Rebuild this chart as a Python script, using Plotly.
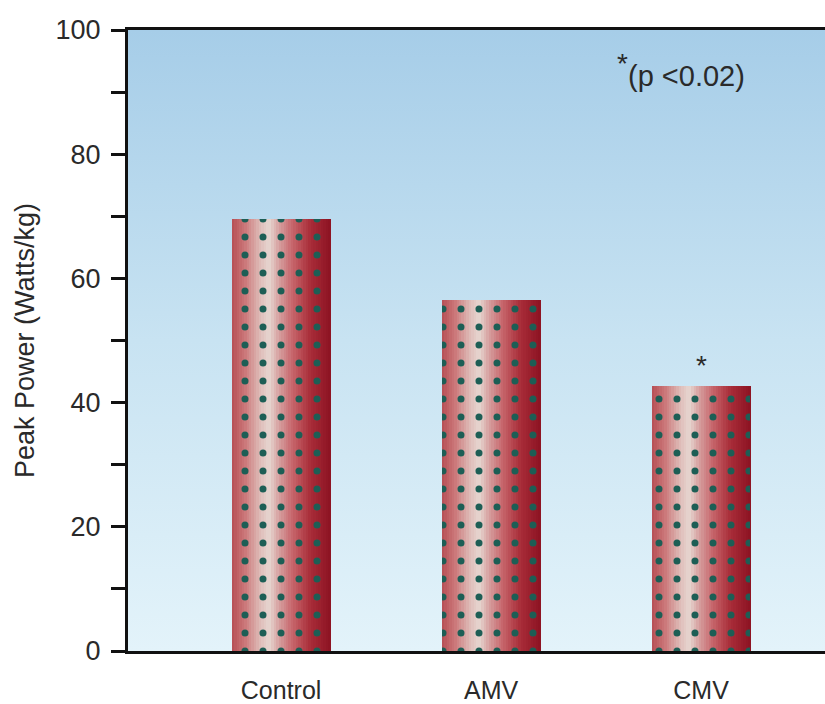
import plotly.graph_objects as go

# ---- data ----
categories = ["Control", "AMV", "CMV"]
peak_power = [69.5, 56.5, 42.7]
significant = [False, False, True]
y_tick_values = [0, 10, 20, 30, 40, 50, 60, 70, 80, 90, 100]
y_tick_labels = ["0", "", "20", "", "40", "", "60", "", "80", "", "100"]

FONT = "Liberation Sans, Arial, Helvetica, sans-serif"
TEXT_COLOR = "#2a2a2a"
BAR_WIDTH = 0.47
N_STRIPS = 40

# horizontal gradient stops across each bar (fraction, rgb)
stops = [
    (0.00, (182, 78, 84)),
    (0.14, (204, 122, 124)),
    (0.30, (224, 192, 188)),
    (0.38, (230, 214, 208)),
    (0.48, (214, 158, 158)),
    (0.62, (198, 100, 106)),
    (0.80, (168, 44, 56)),
    (1.00, (140, 18, 34)),
]


def grad_color(t):
    for (t0, c0), (t1, c1) in zip(stops[:-1], stops[1:]):
        if t0 <= t <= t1:
            f = (t - t0) / (t1 - t0) if t1 > t0 else 0
            c = [round(a + (b - a) * f) for a, b in zip(c0, c1)]
            return f"rgb({c[0]},{c[1]},{c[2]})"
    c = stops[-1][1]
    return f"rgb({c[0]},{c[1]},{c[2]})"


fig = go.Figure()

strip_w = BAR_WIDTH / N_STRIPS
for k in range(N_STRIPS):
    t = (k + 0.5) / N_STRIPS
    fig.add_trace(go.Bar(
        x=categories, y=peak_power,
        width=strip_w * 1.08, offset=-BAR_WIDTH / 2 + k * strip_w,
        marker=dict(color=grad_color(t), line=dict(width=0)),
        showlegend=False, hoverinfo="skip",
    ))

# dotted overlay
fig.add_trace(go.Bar(
    x=categories, y=peak_power,
    width=BAR_WIDTH, offset=-BAR_WIDTH / 2,
    marker=dict(
        color="rgba(0,0,0,0)", line=dict(width=0),
        pattern=dict(shape=".", size=18, solidity=0.12,
                     fgcolor="#1d5e55", bgcolor="rgba(0,0,0,0)",
                     fillmode="replace"),
    ),
    showlegend=False,
    hovertemplate="%{x}: %{y}<extra></extra>",
))

# significance star above bar
sig_x = [c for c, s in zip(categories, significant) if s]
sig_y = [v for v, s in zip(peak_power, significant) if s]
for cx, cy in zip(sig_x, sig_y):
    fig.add_annotation(x=cx, y=cy, text="*", showarrow=False,
                       yshift=20, xshift=0,
                       font=dict(family=FONT, size=28, color=TEXT_COLOR))

# legend note
fig.add_annotation(xref="paper", yref="paper", x=0.709, y=0.975, text="*",
                   showarrow=False, xanchor="center",
                   font=dict(family=FONT, size=28, color=TEXT_COLOR))
fig.add_annotation(xref="paper", yref="paper", x=0.714, y=0.955, text="(p <0.02)",
                   showarrow=False, xanchor="left",
                   font=dict(family=FONT, size=29, color=TEXT_COLOR))

bg_svg = (
    "data:image/svg+xml;utf8,"
    "<svg xmlns='http://www.w3.org/2000/svg' width='100' height='100' preserveAspectRatio='none'>"
    "<defs><linearGradient id='g' x1='0' y1='0' x2='0' y2='1'>"
    "<stop offset='0' stop-color='%23a6cde8'/>"
    "<stop offset='0.5' stop-color='%23c8e3f2'/>"
    "<stop offset='1' stop-color='%23e3f3fa'/>"
    "</linearGradient></defs>"
    "<rect width='100' height='100' fill='url(%23g)'/></svg>"
)

fig.update_layout(
    width=825, height=704,
    margin=dict(l=128, r=0, t=30, b=47),
    paper_bgcolor="white",
    plot_bgcolor="#cfe6f3",
    barmode="overlay",
    bargap=0,
    font=dict(family=FONT, color=TEXT_COLOR),
    images=[dict(source=bg_svg, xref="paper", yref="paper", x=0, y=1,
                 sizex=1, sizey=1, sizing="stretch", layer="below",
                 xanchor="left", yanchor="top")],
    xaxis=dict(
        range=[-0.729, 2.59], showgrid=False, zeroline=False,
        showline=True, linecolor="#111111", linewidth=3, mirror=True,
        ticks="outside", ticklen=15, tickcolor="rgba(0,0,0,0)",
        tickfont=dict(family=FONT, size=25, color=TEXT_COLOR),
    ),
    yaxis=dict(
        range=[0, 100], showgrid=False, zeroline=False,
        showline=True, linecolor="#111111", linewidth=3,
        tickmode="array", tickvals=y_tick_values, ticktext=y_tick_labels,
        ticks="outside", ticklen=14, tickwidth=3, tickcolor="#111111",
        ticklabelstandoff=5,
        tickfont=dict(family=FONT, size=27, color=TEXT_COLOR),
        title=dict(text="Peak Power (Watts/kg)", standoff=14,
                   font=dict(family=FONT, size=27, color=TEXT_COLOR)),
    ),
)

fig.write_html(
    "out.html",
    config={"displayModeBar": False},
    post_script="document.body.style.margin='0';document.body.style.padding='0';"
                "document.documentElement.style.overflow='hidden';",
)
